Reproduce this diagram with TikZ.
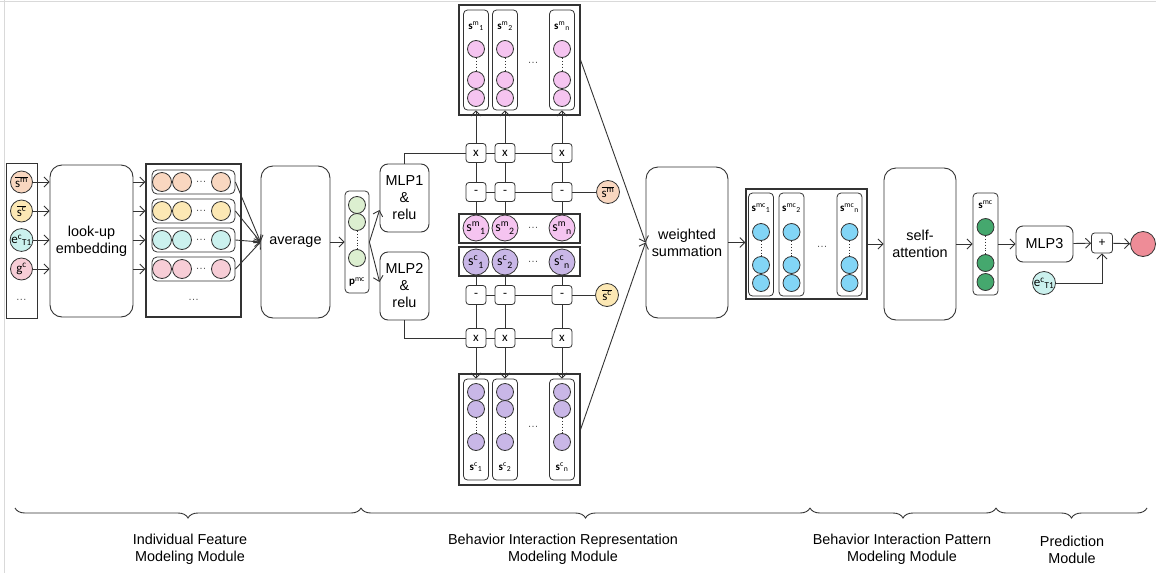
\documentclass[tikz,border=0pt]{standalone}
\usepackage{fontspec}
\setmainfont{Liberation Sans}
\newfontfamily\labfont{Carlito}
\usepackage{tikz}
\usetikzlibrary{arrows.meta,positioning,fit,calc,decorations.pathreplacing}
\definecolor{PeachIn}{HTML}{F9D7C0}
\definecolor{YellowIn}{HTML}{FCE8B4}
\definecolor{CyanIn}{HTML}{CBF1EE}
\definecolor{PinkIn}{HTML}{F7CDD6}
\definecolor{GreenIn}{HTML}{DCEFD0}
\definecolor{PinkM}{HTML}{F5C4F0}
\definecolor{LavC}{HTML}{C9B7E7}
\definecolor{BlueMC}{HTML}{82D5F6}
\definecolor{GreenMC}{HTML}{45A86E}
\definecolor{OutRed}{HTML}{EE8C97}
\newcommand{\sbar}[1]{$\overline{\hbox{s\textsuperscript{#1}}}$}
\newcommand{\vlab}[3]{#1\textsuperscript{#2}\textsubscript{#3}}

\begin{document}
\begin{tikzpicture}[x=1pt,y=-1pt,
  font=\fontsize{14.4}{17}\selectfont,
  wire/.style={draw=black!80,line width=0.9pt},
  arrow/.style={wire,-{Straight Barb[length=5pt,width=10pt]}},
  block/.style={draw=black!80,line width=0.9pt,rounded corners=12pt,align=center},
  frame/.style={draw=black!80,line width=1.1pt},
  col/.style={draw=black!80,line width=0.8pt,rounded corners=4pt,minimum width=25pt},
  op/.style={draw=black!80,line width=0.8pt,rounded corners=3pt,fill=white,minimum width=20pt,minimum height=19pt,inner sep=0pt,font=\labfont\fontsize{13}{13}\selectfont},
  unit/.style={circle,draw=black!80,line width=0.8pt,inner sep=0pt,minimum size=#1},
  unit/.default=17pt,
  lab/.style={font=\labfont\fontsize{11}{11}\selectfont,inner sep=0pt},
  biglab/.style={font=\labfont\fontsize{13}{13}\selectfont},
  ellip/.style={font=\fontsize{11}{11}\selectfont,text=black!65,inner sep=0pt}
]
  \useasboundingbox (0,0) rectangle (1156,573);
  \draw[black!15] (4,0) -- (4,573);
  \draw[black!15] (0,1.5) -- (1156,1.5);

  % individual features
  \node[draw=black!80,line width=1pt,minimum width=31pt,minimum height=155pt] (incol) at (21.5,240.5) {};
  \node[unit=22pt,fill=PeachIn,biglab] (in1) at (21.5,182) {\sbar{m}};
  \node[unit=22pt,fill=YellowIn,biglab] (in2) at (21.5,211) {\sbar{c}};
  \node[unit=22pt,fill=CyanIn,biglab] (in3) at (21.5,240) {\vlab{e}{c}{T1}};
  \node[unit=22pt,fill=PinkIn,biglab] (in4) at (21.5,269) {g\textsuperscript{c}};
  \node[ellip] (indots) at (21.5,300) {\ldots};

  \node[block,minimum width=83pt,minimum height=152pt] (lookup) at (91.5,241) {look-up\\embedding};
  \foreach \i in {1,...,4}
    \draw[arrow] (in\i) -- (in\i -| lookup.west);

  \node[frame,minimum width=95pt,minimum height=153pt] (embfr) at (193.5,240.5) {};
  \foreach \i/\y/\col in {1/182/PeachIn,2/211/YellowIn,3/240/CyanIn,4/269/PinkIn} {
    \node[col,minimum width=83pt,minimum height=24pt,rounded corners=5pt] (emb\i) at (193.5,\y) {};
    \node[unit=19pt,fill=\col] (ea\i) at (162,\y) {};
    \node[unit=19pt,fill=\col] (eb\i) at (182,\y) {};
    \node[ellip] (ed\i) at (201,\y) {\ldots};
    \node[unit=19pt,fill=\col] (ec\i) at (221,\y) {};
    \draw[arrow] (lookup.east |- emb\i) -- (emb\i -| embfr.west);
  }
  \node[ellip] (embdots) at (193.5,300) {\ldots};

  \node[block,minimum width=69pt,minimum height=152pt] (average) at (295.5,242) {average};
  \foreach \i in {1,...,4}
    \draw[arrow] (emb\i.east) -- (average.west);

  % p^mc
  \node[col,minimum width=24pt,minimum height=102pt] (pmc) at (357,242) {};
  \node[unit,fill=GreenIn] (pmc1) at (357,205) {};
  \node[unit,fill=GreenIn] (pmc2) at (357,222) {};
  \node[unit,fill=GreenIn] (pmc3) at (357,258) {};
  \draw[wire,dotted] (pmc2) -- (pmc3);
  \node[lab] (pmclab) at (357,282) {\textbf{p}\textsuperscript{mc}};
  \draw[arrow] (average) -- (pmc);

  \node[block,rounded corners=8pt,minimum width=49pt,minimum height=68pt] (mlp1) at (404.5,198) {MLP1\\\&\\relu};
  \node[block,rounded corners=8pt,minimum width=49pt,minimum height=68pt] (mlp2) at (404.5,286) {MLP2\\\&\\relu};
  \draw[arrow] (pmc.east) -- ([yshift=-12pt]mlp1.west);
  \draw[arrow] (pmc.east) -- ([yshift=4pt]mlp2.west);

  % behavior interaction representation
  \node[frame,minimum width=121pt,minimum height=29pt] (smrow) at (519.5,228.5) {};
  \node[frame,minimum width=121pt,minimum height=29pt] (scrow) at (519.5,261.5) {};
  \node[frame,minimum width=121pt,minimum height=110pt] (tfr) at (519.5,60) {};
  \node[frame,minimum width=121pt,minimum height=111pt] (bfr) at (519.5,429.5) {};
  \node[unit=23pt,fill=PeachIn,biglab] (sbm) at (608,192) {\sbar{m}};
  \node[unit=23pt,fill=YellowIn,biglab] (sbc) at (607,295) {\sbar{c}};

  \foreach \i/\x/\s in {1/476/1,2/505/2,3/562/n} {
    \node[op] (xm\i) at (\x,153) {x};
    \node[op] (dm\i) at (\x,192) {-};
    \node[op] (dc\i) at (\x,295) {-};
    \node[op] (xc\i) at (\x,338) {x};
    \node[unit=26pt,fill=PinkM,font=\labfont\fontsize{14}{14}\selectfont] (sm\i) at (\x,228) {\vlab{s}{m}{\s}};
    \node[unit=26pt,fill=LavC,font=\labfont\fontsize{14}{14}\selectfont] (sc\i) at (\x,262) {\vlab{s}{c}{\s}};
    \draw[wire] (sm\i) -- (dm\i) -- (xm\i);
    \draw[wire] (sc\i) -- (dc\i) -- (xc\i);
    % top block
    \node[col,minimum height=100pt] (tc\i) at (\x,60) {};
    \node[lab] (tl\i) at (\x,26) {\vlab{\textbf{s}}{m}{\s}};
    \node[unit,fill=PinkM] (tua\i) at (\x,49) {};
    \node[unit,fill=PinkM] (tub\i) at (\x,80) {};
    \node[unit,fill=PinkM] (tuc\i) at (\x,98) {};
    \draw[wire,dotted] (tua\i) -- (tub\i);
    \draw[arrow] (xm\i) -- (xm\i |- tc\i.south);
    % bottom block
    \node[col,minimum height=101pt] (bc\i) at (\x,429.5) {};
    \node[unit,fill=LavC] (bua\i) at (\x,392) {};
    \node[unit,fill=LavC] (bub\i) at (\x,409) {};
    \node[unit,fill=LavC] (buc\i) at (\x,442) {};
    \draw[wire,dotted] (bub\i) -- (buc\i);
    \node[lab] (bl\i) at (\x,467) {\vlab{\textbf{s}}{c}{\s}};
    \draw[arrow] (xc\i) -- (xc\i |- bc\i.north);
  }
  \node[ellip] (smdots) at (533,228) {\ldots};
  \node[ellip] (scdots) at (533,262) {\ldots};
  \node[ellip] (tdots) at (533,63) {\ldots};
  \node[ellip] (bdots) at (533,427) {\ldots};

  \draw[wire] (mlp1.north) |- (xm1.west);
  \draw[wire] (xm1) -- (xm2) -- (xm3);
  \draw[wire] (dm1) -- (dm2) -- (dm3) -- (sbm);
  \draw[wire] (mlp2.south) |- (xc1.west);
  \draw[wire] (xc1) -- (xc2) -- (xc3);
  \draw[wire] (dc1) -- (dc2) -- (dc3) -- (sbc);

  \node[block,minimum width=82pt,minimum height=151pt] (wsum) at (687,242.5) {weighted\\summation};
  \draw[arrow] (tfr.east) -- (wsum.west);
  \draw[arrow] (bfr.east) -- (wsum.west);

  % behavior interaction pattern
  \node[frame,minimum width=121pt,minimum height=110pt] (mcfr) at (806.5,244) {};
  \foreach \i/\x/\s in {1/761/1,2/791.5/2,3/849.5/n} {
    \node[col,minimum height=103pt] (mc\i) at (\x,244.5) {};
    \node[lab] (ml\i) at (\x,208) {\vlab{\textbf{s}}{mc}{\s}};
    \node[unit,fill=BlueMC] (mua\i) at (\x,232) {};
    \node[unit,fill=BlueMC] (mub\i) at (\x,265) {};
    \node[unit,fill=BlueMC] (muc\i) at (\x,283) {};
    \draw[wire,dotted] (mua\i) -- (mub\i);
  }
  \node[ellip] (mcdots) at (822,247) {\ldots};
  \draw[arrow] (wsum.east) -- (wsum.east -| mcfr.west);

  \node[block,minimum width=72pt,minimum height=152pt] (selfatt) at (920,244) {self-\\attention};
  \draw[arrow] (mcfr) -- (selfatt);

  % prediction
  \node[col,minimum height=102pt] (smc) at (985.5,244) {};
  \node[lab] (smclab) at (985.5,205) {\textbf{s}\textsuperscript{mc}};
  \node[unit,fill=GreenMC] (smc1) at (985.5,227) {};
  \node[unit,fill=GreenMC] (smc2) at (985.5,263) {};
  \node[unit,fill=GreenMC] (smc3) at (985.5,282) {};
  \draw[wire,dotted] (smc1) -- (smc2);
  \draw[arrow] (selfatt) -- (smc);

  \node[block,rounded corners=7pt,minimum width=57pt,minimum height=36pt] (mlp3) at (1044.5,244) {MLP3};
  \draw[arrow] (smc) -- (mlp3);
  \node[op,minimum width=21pt,minimum height=20pt] (plus) at (1102,243) {+};
  \draw[arrow] (mlp3) -- (plus);
  \node[unit=25pt,fill=OutRed] (out) at (1143,244) {};
  \draw[arrow] (plus) -- (out);
  \node[unit=23pt,fill=CyanIn,biglab] (ect) at (1044,283) {\vlab{e}{c}{T1}};
  \draw[arrow] (ect) -| (plus);

  % module braces
  \coordinate (b0) at (15,508);
  \coordinate (b1) at (361,508);
  \coordinate (b2) at (810,508);
  \coordinate (b3) at (996,508);
  \coordinate (b4) at (1147,508);
  \foreach \a/\b in {b0/b1,b1/b2,b2/b3,b3/b4}
    \draw[wire,decorate,decoration={brace,mirror,amplitude=10pt}] (\a) -- (\b);
  \node[align=center] (mod1) at (190,549.5) {Individual Feature\\Modeling Module};
  \node[align=center] (mod2) at (563,549.5) {Behavior Interaction Representation\\Modeling Module};
  \node[align=center] (mod3) at (902,549.5) {Behavior Interaction Pattern\\Modeling Module};
  \node[align=center] (mod4) at (1072,549.5) {Prediction\\Module};
\end{tikzpicture}
\end{document}
